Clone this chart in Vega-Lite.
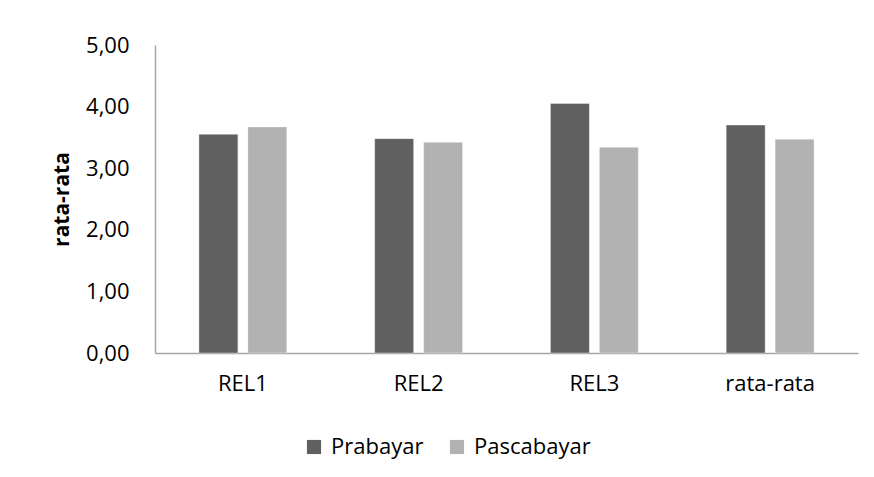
{
  "$schema": "https://vega.github.io/schema/vega-lite/v6.json",
  "autosize": "none",
  "width": 703,
  "height": 308,
  "padding": {"left": 155, "top": 45, "right": 16, "bottom": 124},
  "background": "white",
  "config": {
    "font": "Open Sans",
    "view": {"stroke": null}
  },
  "data": {
    "values": [
      {"cat": "REL1", "series": "Prabayar", "value": 3.55},
      {"cat": "REL1", "series": "Pascabayar", "value": 3.67},
      {"cat": "REL2", "series": "Prabayar", "value": 3.48},
      {"cat": "REL2", "series": "Pascabayar", "value": 3.42},
      {"cat": "REL3", "series": "Prabayar", "value": 4.05},
      {"cat": "REL3", "series": "Pascabayar", "value": 3.34},
      {"cat": "rata-rata", "series": "Prabayar", "value": 3.70},
      {"cat": "rata-rata", "series": "Pascabayar", "value": 3.47}
    ]
  },
  "mark": {"type": "bar", "stroke": "#ffffff", "strokeOpacity": 0.35, "strokeWidth": 1},
  "encoding": {
    "x": {
      "field": "cat",
      "type": "nominal",
      "sort": ["REL1", "REL2", "REL3", "rata-rata"],
      "scale": {"paddingInner": 0.5, "paddingOuter": 0.25},
      "axis": {
        "title": null,
        "labelAngle": 0,
        "labelFontSize": 22,
        "labelColor": "#000000",
        "labelPadding": 20,
        "ticks": false,
        "domainColor": "#a6a6a6",
        "domainWidth": 1.5,
        "grid": false
      }
    },
    "xOffset": {
      "field": "series",
      "type": "nominal",
      "sort": ["Prabayar", "Pascabayar"],
      "scale": {"paddingInner": 0.204, "paddingOuter": 0}
    },
    "y": {
      "field": "value",
      "type": "quantitative",
      "scale": {"domain": [0, 5], "nice": false},
      "axis": {
        "title": "rata-rata",
        "titleFontSize": 21,
        "titleFontWeight": "bold",
        "titleColor": "#000000",
        "titlePadding": 13,
        "values": [0, 1, 2, 3, 4, 5],
        "labelExpr": "replace(format(datum.value, '.2f'), '.', ',')",
        "labelFontSize": 22,
        "labelColor": "#000000",
        "labelPadding": 26,
        "ticks": false,
        "grid": false,
        "domainColor": "#a6a6a6",
        "domainWidth": 1.5
      }
    },
    "color": {
      "field": "series",
      "type": "nominal",
      "sort": ["Prabayar", "Pascabayar"],
      "scale": {"domain": ["Prabayar", "Pascabayar"], "range": ["#606060", "#b2b2b2"]},
      "legend": {
        "title": null,
        "orient": "none",
        "direction": "horizontal",
        "legendX": 148,
        "legendY": 391,
        "symbolType": "square",
        "symbolSize": 200,
        "symbolStrokeWidth": 0,
        "labelFontSize": 22,
        "labelColor": "#000000",
        "labelOffset": 6,
        "columnPadding": 22,
        "labelLimit": 300
      }
    }
  }
}
